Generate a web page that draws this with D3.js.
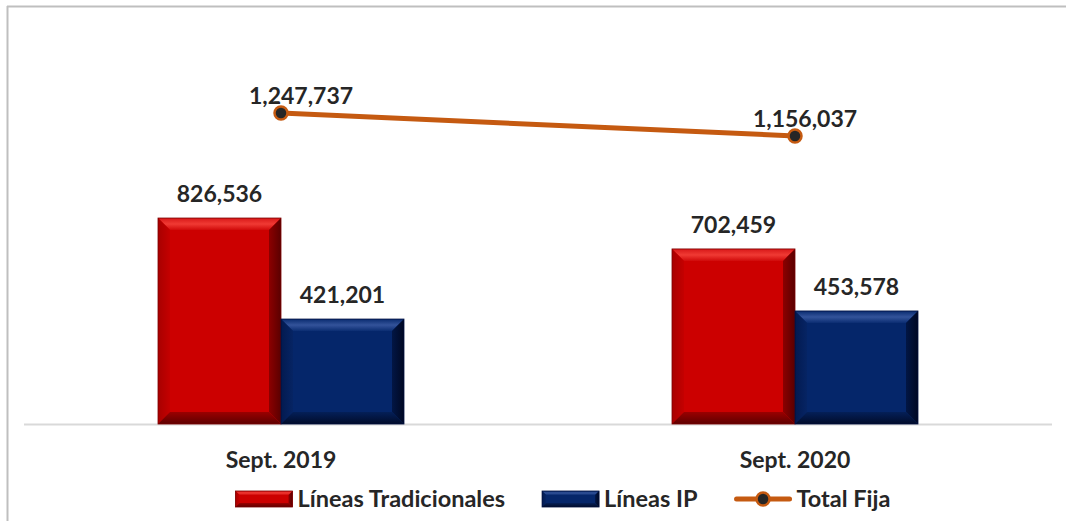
<!DOCTYPE html>
<html>
<head>
<meta charset="utf-8">
<script src="https://cdn.jsdelivr.net/npm/d3@7"></script>
<style>
  html, body { margin: 0; padding: 0; background: #fff; }
  svg { display: block; font-family: Lato, "Open Sans", sans-serif; }
</style>
</head>
<body>
<svg id="chart" width="1066" height="521"></svg>
<script>
const categories = ["Sept. 2019", "Sept. 2020"];
const seriesNames = ["Líneas Tradicionales", "Líneas IP"];
const lineasTradicionales = [826536, 702459];
const lineasIP = [421201, 453578];
const totalFija = [1247737, 1156037];
const lineName = "Total Fija";

const svg = d3.select("#chart");
const W = 1066, H = 521;
const plot = { left: 24, right: 1052, bottom: 424 };
const textColor = "#262626";
const fmt = d3.format(",");

// gradients
const defs = svg.append("defs");
function grad(id, x1, y1, x2, y2, stops) {
  const g = defs.append("linearGradient").attr("id", id)
    .attr("x1", x1).attr("y1", y1).attr("x2", x2).attr("y2", y2);
  stops.forEach(s => g.append("stop").attr("offset", s[0]).attr("stop-color", s[1]));
}
grad("rTop", 0, 0, 0, 1, [[0, "#d81818"], [0.5, "#f03a34"], [1, "#d00a0a"]]);
grad("rBot", 0, 0, 0, 1, [[0, "#9a0000"], [1, "#5e0000"]]);
grad("rLeft", 0, 0, 1, 0, [[0, "#a80000"], [1, "#c40000"]]);
grad("rRight", 0, 0, 1, 0, [[0, "#8c0000"], [1, "#5a0000"]]);
grad("bTop", 0, 0, 0, 1, [[0, "#0a2c70"], [0.5, "#33539a"], [1, "#0b2d72"]]);
grad("bBot", 0, 0, 0, 1, [[0, "#041f58"], [1, "#010c2a"]]);
grad("bLeft", 0, 0, 1, 0, [[0, "#031a50"], [1, "#062464"]]);
grad("bRight", 0, 0, 1, 0, [[0, "#021645"], [1, "#000822"]]);

// frame
svg.append("line").attr("x1", 7.5).attr("x2", 7.5).attr("y1", 6).attr("y2", H)
  .attr("stroke", "#bfbfbf").attr("stroke-width", 2);
svg.append("line").attr("x1", 7).attr("x2", W).attr("y1", 6.5).attr("y2", 6.5)
  .attr("stroke", "#bfbfbf").attr("stroke-width", 2);

const x = d3.scaleBand().domain(categories).range([plot.left, plot.right]).padding(0);
const groupW = 246;
const xSub = d3.scaleBand().domain(seriesNames).range([0, groupW]).padding(0);
const y = d3.scaleLinear().domain([0, 1300000]).range([plot.bottom, plot.bottom - 1300000 * 0.0002492]);

const palettes = {
  "Líneas Tradicionales": { mid: "#cc0000", top: "url(#rTop)", left: "url(#rLeft)", right: "url(#rRight)", bottom: "url(#rBot)", edge: "#7a0000" },
  "Líneas IP": { mid: "#05266a", top: "url(#bTop)", left: "url(#bLeft)", right: "url(#bRight)", bottom: "url(#bBot)", edge: "#021040" }
};

function bevelRect(g, x0, y0, w, h, p, b) {
  const x1 = x0 + w, y1 = y0 + h;
  b = Math.min(b, w / 2, h / 2);
  g.append("rect").attr("x", x0).attr("y", y0).attr("width", w).attr("height", h).attr("fill", p.mid);
  g.append("path").attr("d", `M${x0},${y0}L${x1},${y0}L${x1 - b},${y0 + b}L${x0 + b},${y0 + b}Z`).attr("fill", p.top);
  g.append("path").attr("d", `M${x0},${y0}L${x0 + b},${y0 + b}L${x0 + b},${y1 - b}L${x0},${y1}Z`).attr("fill", p.left);
  g.append("path").attr("d", `M${x1},${y0}L${x1},${y1}L${x1 - b},${y1 - b}L${x1 - b},${y0 + b}Z`).attr("fill", p.right);
  g.append("path").attr("d", `M${x0},${y1}L${x0 + b},${y1 - b}L${x1 - b},${y1 - b}L${x1},${y1}Z`).attr("fill", p.bottom);
  g.append("rect").attr("x", x0).attr("y", y0).attr("width", w).attr("height", h)
    .attr("fill", "none").attr("stroke", p.edge).attr("stroke-width", 0.8);
}

// axis line
svg.append("line").attr("x1", plot.left).attr("x2", plot.right)
  .attr("y1", plot.bottom + 0.5).attr("y2", plot.bottom + 0.5)
  .attr("stroke", "#d9d9d9").attr("stroke-width", 2);

const barData = [];
categories.forEach((c, i) => {
  barData.push({ cat: c, series: seriesNames[0], value: lineasTradicionales[i] });
  barData.push({ cat: c, series: seriesNames[1], value: lineasIP[i] });
});

const offset = (x.bandwidth() - groupW) / 2;
const barsG = svg.append("g");
barData.forEach(d => {
  const bx = x(d.cat) + offset + xSub(d.series);
  const by = y(d.value);
  const g = barsG.append("g");
  bevelRect(g, bx, by, xSub.bandwidth(), y(0) - by, palettes[d.series], 12);
  svg.append("text").attr("x", bx + xSub.bandwidth() / 2).attr("y", by - 16)
    .attr("text-anchor", "middle").attr("font-size", 23).attr("font-weight", 700)
    .attr("fill", textColor).text(fmt(d.value));
});

// category labels
categories.forEach(c => {
  svg.append("text").attr("x", x(c) + x.bandwidth() / 2).attr("y", 468)
    .attr("text-anchor", "middle").attr("font-size", 23).attr("font-weight", 700)
    .attr("fill", textColor).text(c);
});

// line
const lineColor = "#c55a11";
const pts = categories.map((c, i) => ({ cat: c, value: totalFija[i] }));
const line = d3.line().x(d => x(d.cat) + x.bandwidth() / 2).y(d => y(d.value));
svg.append("path").datum(pts).attr("d", line).attr("fill", "none")
  .attr("stroke", lineColor).attr("stroke-width", 5).attr("stroke-linecap", "round");
pts.forEach((d, i) => {
  const px = x(d.cat) + x.bandwidth() / 2, py = y(d.value);
  svg.append("circle").attr("cx", px).attr("cy", py).attr("r", 6.5)
    .attr("fill", "#262626").attr("stroke", lineColor).attr("stroke-width", 2.5);
  svg.append("text").attr("x", px + (i === 0 ? 20 : 10)).attr("y", py - 9)
    .attr("text-anchor", "middle").attr("font-size", 23).attr("font-weight", 700)
    .attr("fill", textColor).text(fmt(d.value));
});

// legend
const leg = svg.append("g");
const legY = 499;
const items = [
  { name: seriesNames[0], type: "bar" },
  { name: seriesNames[1], type: "bar" },
  { name: lineName, type: "line" }
];
const swW = 57, gapSwText = 5, gapItems = 37;
const built = items.map(it => {
  const g = leg.append("g");
  if (it.type === "bar") {
    bevelRect(g, 0, legY - 8, swW, 16, palettes[it.name], 4);
  } else {
    g.append("line").attr("x1", 2).attr("x2", swW - 2).attr("y1", legY).attr("y2", legY)
      .attr("stroke", lineColor).attr("stroke-width", 5).attr("stroke-linecap", "round");
    g.append("circle").attr("cx", swW / 2).attr("cy", legY).attr("r", 6.5)
      .attr("fill", "#262626").attr("stroke", lineColor).attr("stroke-width", 2.5);
  }
  const t = g.append("text").attr("x", swW + gapSwText).attr("y", legY + 8)
    .attr("font-size", 23.5).attr("font-weight", 700).attr("fill", textColor).text(it.name);
  const w = swW + gapSwText + t.node().getComputedTextLength();
  return { g, w };
});
const total = d3.sum(built, b => b.w) + gapItems * (built.length - 1);
let cursor = 563 - total / 2;
built.forEach(b => {
  b.g.attr("transform", `translate(${cursor},0)`);
  cursor += b.w + gapItems;
});
</script>
</body>
</html>
